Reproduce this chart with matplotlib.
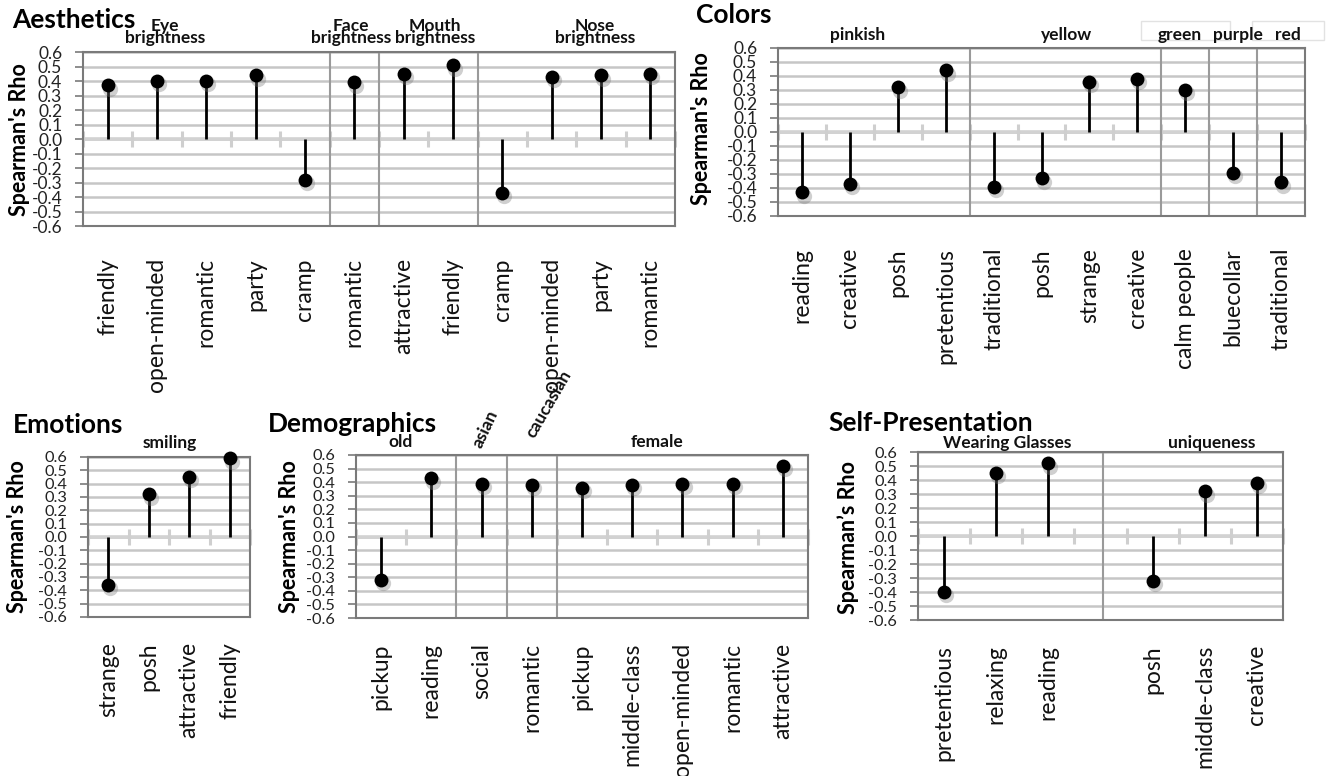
import numpy as np
import matplotlib
matplotlib.use("Agg")
import matplotlib.pyplot as plt
from matplotlib.transforms import offset_copy
from matplotlib.patches import Rectangle

# ---- data (Spearman's rho per category) ----
AES_CATS = ["friendly", "open-minded", "romantic", "party", "cramp", "romantic",
            "attractive", "friendly", "cramp", "open-minded", "party", "romantic"]
AES_VALS = [0.37, 0.40, 0.40, 0.44, -0.28, 0.39, 0.45, 0.51, -0.37, 0.43, 0.44, 0.45]
AES_GROUPS = [5, 1, 2, 4]

COL_CATS = ["reading", "creative", "posh", "pretentious", "traditional", "posh",
            "strange", "creative", "calm people", "bluecollar", "traditional"]
COL_VALS = [-0.43, -0.37, 0.32, 0.44, -0.39, -0.33, 0.36, 0.38, 0.30, -0.29, -0.36]
COL_GROUPS = [4, 4, 1, 1, 1]

EMO_CATS = ["strange", "posh", "attractive", "friendly"]
EMO_VALS = [-0.36, 0.32, 0.45, 0.59]
EMO_GROUPS = [4]

DEM_CATS = ["pickup", "reading", "social", "romantic", "pickup", "middle-class",
            "open-minded", "romantic", "attractive"]
DEM_VALS = [-0.32, 0.43, 0.39, 0.38, 0.36, 0.38, 0.39, 0.39, 0.52]
DEM_GROUPS = [2, 1, 1, 5]

SELF_CATS = ["pretentious", "relaxing", "reading", "", "posh", "middle-class", "creative"]
SELF_VALS = [-0.40, 0.45, 0.52, np.nan, -0.32, 0.32, 0.38]

W, H = 1328, 776
plt.rcParams["font.family"] = ["Lato", "DejaVu Sans"]

GRID_C = "#c6c6c6"
FRAME_C = "#7a7a7a"
SEP_C = "#9a9a9a"


def px_axes(fig, left, top, right, bottom):
    return fig.add_axes([left / W, 1 - bottom / H, (right - left) / W, (bottom - top) / H])


def ftext(fig, x, y, s, **kw):
    fig.text(x / W, 1 - y / H, s, **kw)


def draw_panel(fig, box, cats, vals, seps, label_pad_px, ytick_size=12.5):
    ax = px_axes(fig, *box)
    n = len(cats)
    x = np.arange(n)
    vals = np.asarray(vals, dtype=float)
    ax.set_xlim(-0.5, n - 0.5)
    ax.set_ylim(-0.6, 0.6)
    yt = np.round(np.arange(-0.6, 0.61, 0.1), 1)
    ax.set_yticks(yt)
    ax.set_yticklabels([f"{t:.1f}" if t != 0 else "0.0" for t in yt], fontsize=ytick_size)
    ax.yaxis.grid(True, color=GRID_C, lw=1.8)
    ax.set_axisbelow(True)
    ax.tick_params(axis="y", direction="out", length=6, width=1.2, color=FRAME_C,
                   pad=9, labelcolor="#222222")
    ax.set_xticks(x)
    ax.set_xticklabels(cats, rotation=90, fontsize=16.5)
    ax.tick_params(axis="x", length=0, pad=label_pad_px * 0.72, labelcolor="#111111")
    for sp in ax.spines.values():
        sp.set_color(FRAME_C)
        sp.set_linewidth(1.5)

    # category axis at zero with tick marks at slot edges
    ax.axhline(0, color="#d2d2d2", lw=2.6, zorder=1)
    edges = np.arange(n + 1) - 0.5
    ax.plot(edges, np.zeros_like(edges), ls="none", marker="|", ms=11, mew=2.2,
            color="#cfcfcf", zorder=1, clip_on=False)
    for s in seps:
        ax.axvline(s, color=SEP_C, lw=1.5, zorder=1.5)

    ok = ~np.isnan(vals)
    ax.vlines(x[ok], 0, vals[ok], color="black", lw=2, zorder=3)
    shadow = offset_copy(ax.transData, fig=fig, x=1.5, y=-2.5, units="points")
    ax.plot(x[ok], vals[ok], ls="none", marker="o", ms=11, color="#777777",
            alpha=0.35, mew=0, transform=shadow, zorder=3.5, clip_on=False)
    ax.plot(x[ok], vals[ok], ls="none", marker="o", ms=10, color="black",
            mew=0, zorder=4, clip_on=False)
    return ax


def group_seps(groups):
    return list(np.cumsum(groups)[:-1] - 0.5)


fig = plt.figure(figsize=(W / 100, H / 100), dpi=100)

TITLE = dict(fontsize=19, fontweight="bold", color="black", va="center", ha="left")
GROUP = dict(fontsize=12.5, fontweight="bold", color="#111111", va="center", ha="center")
YLAB = dict(fontsize=15.5, fontweight="bold", rotation=90, va="center", ha="center")

# Aesthetics
draw_panel(fig, (83, 52, 675, 226), AES_CATS, AES_VALS, group_seps(AES_GROUPS), 32)
ftext(fig, 12, 20, "Aesthetics", **TITLE)
ftext(fig, 20, 140, "Spearman's Rho", **YLAB)
for cx, top in [(165, "Eye"), (351, "Face"), (435, "Mouth"), (595, "Nose")]:
    ftext(fig, cx, 32, top + "\nbrightness", linespacing=0.72,
          multialignment="center", **GROUP)

# Colors
draw_panel(fig, (778, 48, 1305, 216), COL_CATS, COL_VALS, group_seps(COL_GROUPS), 32)
ftext(fig, 696, 15, "Colors", **TITLE)
ftext(fig, 702, 129, "Spearman's Rho", **YLAB)
for cx, g in [(858, "pinkish"), (1067, "yellow"), (1180, "green"), (1238, "purple"), (1288, "red")]:
    ftext(fig, cx, 35, g, **GROUP)
for l, r in [(1141, 1230), (1252, 1324)]:
    fig.patches.append(Rectangle((l / W, 1 - 40 / H), (r - l) / W, 19 / H,
                                 transform=fig.transFigure, fill=False,
                                 ec="#e2e2e2", lw=1, zorder=0))

# Emotions
draw_panel(fig, (88, 457, 250, 617), EMO_CATS, EMO_VALS, group_seps(EMO_GROUPS), 25, 11.8)
ftext(fig, 13, 425, "Emotions", **TITLE)
ftext(fig, 18, 537, "Spearman's Rho", **YLAB)
ftext(fig, 170, 443, "smiling", **GROUP)

# Demographics
draw_panel(fig, (356, 455, 808, 618), DEM_CATS, DEM_VALS, group_seps(DEM_GROUPS), 25, 11.8)
ftext(fig, 268, 424, "Demographics", **TITLE)
ftext(fig, 289, 537, "Spearman's Rho", **YLAB)
ftext(fig, 400, 442, "old", **GROUP)
ftext(fig, 657, 442, "female", **GROUP)
ftext(fig, 485, 429, "asian", rotation=65, **GROUP)
ftext(fig, 549, 404, "caucasian", rotation=60, **GROUP)

# Self-Presentation
draw_panel(fig, (918, 452, 1283, 620), SELF_CATS, SELF_VALS, [3.05], 25, 11.8)
ftext(fig, 828, 423, "Self-Presentation", **TITLE)
ftext(fig, 848, 537, "Spearman\u2019s Rho", **YLAB)
ftext(fig, 1007, 443, "Wearing Glasses", **GROUP)
ftext(fig, 1212, 443, "uniqueness", **GROUP)

fig.savefig("out.png", dpi=100)
